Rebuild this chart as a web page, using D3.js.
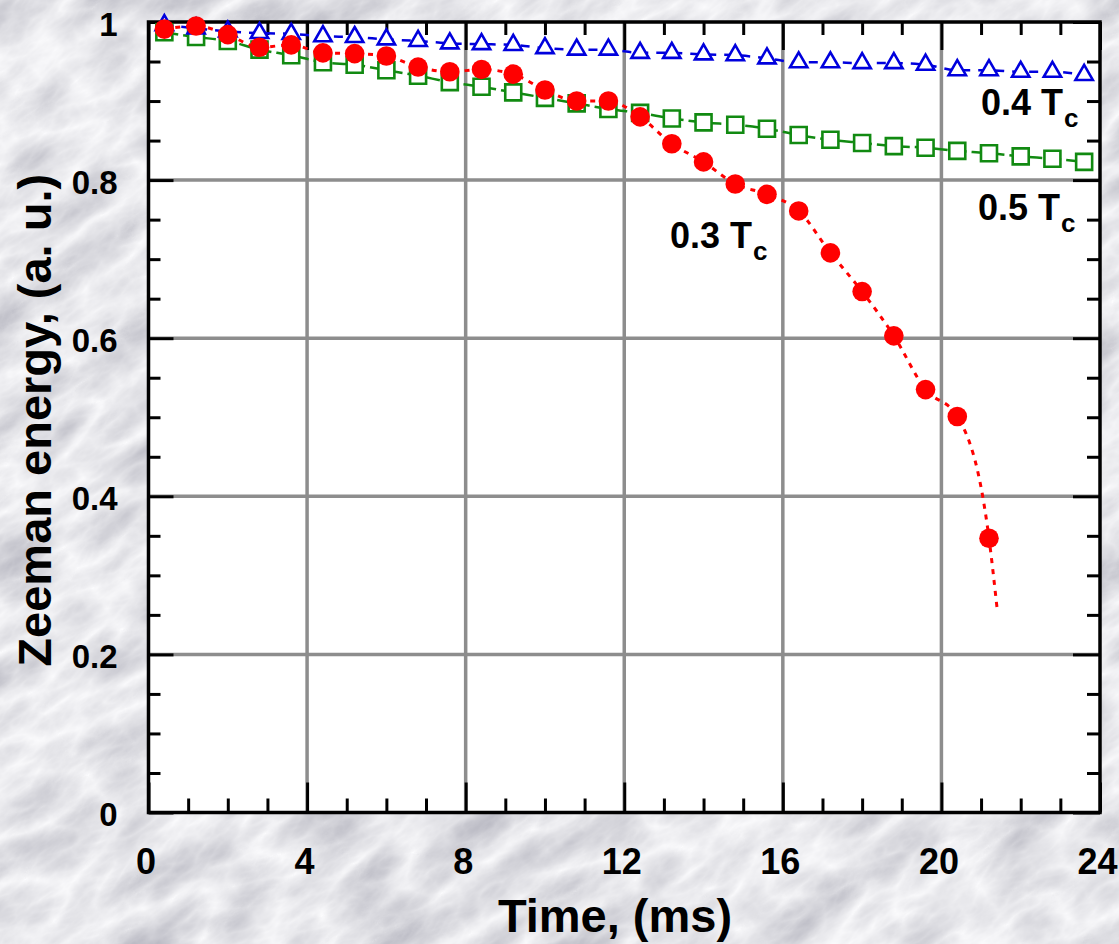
<!DOCTYPE html>
<html>
<head>
<meta charset="utf-8">
<script src="https://cdn.jsdelivr.net/npm/d3@7"></script>
<style>
  html, body { margin: 0; padding: 0; background: #dedee2; }
  svg { display: block; font-family: "Liberation Sans", Arial, Helvetica, sans-serif; }
</style>
</head>
<body>
<svg id="chart" width="1119" height="944"></svg>
<script>
// Sampling times (ms)
const timeMs = [0.4, 1.2, 2.0, 2.8, 3.6, 4.4, 5.2, 6.0, 6.8, 7.6, 8.4, 9.2, 10.0, 10.8, 11.6,
                12.4, 13.2, 14.0, 14.8, 15.6, 16.4, 17.2, 18.0, 18.8, 19.6, 20.4, 21.2, 22.0, 22.8, 23.6];

// Normalised Zeeman energy at 0.3 Tc (sample ends at 21.2 ms)
const energy03 = [0.991, 0.995, 0.984, 0.968, 0.971, 0.961, 0.960, 0.957, 0.943, 0.937, 0.940, 0.934,
                  0.914, 0.900, 0.900, 0.880, 0.846, 0.823, 0.795, 0.782, 0.761, 0.708, 0.659, 0.603,
                  0.535, 0.501, 0.347];
// End point of the 0.3 Tc guide curve [ms, energy]
const tail03 = [21.4, 0.26];

// Normalised Zeeman energy at 0.4 Tc
const energy04 = [0.996, 0.992, 0.988, 0.986, 0.985, 0.982, 0.981, 0.978, 0.976, 0.973, 0.972, 0.971,
                  0.967, 0.965, 0.965, 0.961, 0.961, 0.959, 0.958, 0.954, 0.949, 0.949, 0.948, 0.948,
                  0.946, 0.939, 0.939, 0.937, 0.937, 0.933];

// Normalised Zeeman energy at 0.5 Tc
const energy05 = [0.987, 0.981, 0.976, 0.965, 0.958, 0.949, 0.946, 0.939, 0.932, 0.924, 0.918, 0.911,
                  0.904, 0.897, 0.890, 0.885, 0.878, 0.873, 0.870, 0.865, 0.857, 0.851, 0.847, 0.843,
                  0.841, 0.837, 0.834, 0.830, 0.827, 0.823];

// Axis ticks and labels
const xTicks = [0, 4, 8, 12, 16, 20, 24];
const yTicks = [0, 0.2, 0.4, 0.6, 0.8, 1];
const xTitle = "Time, (ms)";
const yTitle = "Zeeman energy, (a. u.)";
const curveNames = ["0.3 T", "0.4 T", "0.5 T"];
const curveSub = "c";

const svg = d3.select("#chart");
const W = 1119, H = 944;

// Marble backdrop
const defs = svg.append("defs");
const marble = defs.append("filter").attr("id", "marble")
  .attr("x", 0).attr("y", 0).attr("width", 1).attr("height", 1);
marble.append("feTurbulence")
  .attr("type", "turbulence").attr("baseFrequency", "0.009 0.02")
  .attr("numOctaves", 5).attr("seed", 23).attr("result", "noise");
marble.append("feColorMatrix").attr("type", "matrix")
  .attr("values", "-0.55 0 0 0 0.97  -0.55 0 0 0 0.97  -0.5 0 0 0 0.985  0 0 0 0 1");
svg.append("g").attr("transform", `rotate(-35 ${W / 2} ${H / 2})`)
  .append("rect")
  .attr("x", -450).attr("y", -450).attr("width", W + 900).attr("height", H + 900)
  .attr("filter", "url(#marble)");

// Scales
const x = d3.scaleLinear().domain([0, 24]).range([148.5, 1100]);
const y = d3.scaleLinear().domain([0, 1]).range([812.5, 22]);

// Plot area
svg.append("rect")
  .attr("x", x(0)).attr("y", y(1))
  .attr("width", x(24) - x(0)).attr("height", y(0) - y(1))
  .attr("fill", "#ffffff");

// Grid
const grid = svg.append("g").attr("stroke", "#8d8d8d").attr("stroke-width", 3.5);
grid.selectAll("line.gx").data(xTicks.slice(1, -1)).join("line")
  .attr("x1", d => x(d)).attr("x2", d => x(d)).attr("y1", y(1)).attr("y2", y(0));
grid.selectAll("line.gy").data(yTicks.slice(1, -1)).join("line")
  .attr("y1", d => y(d)).attr("y2", d => y(d)).attr("x1", x(0)).attr("x2", x(24));

// Minor tick positions
const xMinor = d3.range(0, 24.001, 1).filter(v => v % 4 !== 0);
const yMinor = d3.range(0, 1.0001, 0.05).filter(v => Math.abs(v * 5 - Math.round(v * 5)) > 1e-6);

function styleAxis(g) {
  g.select(".domain").remove();
  g.selectAll(".tick line").attr("stroke", "#000").attr("stroke-width", 3);
  g.selectAll(".tick text")
    .attr("fill", "#000").attr("font-weight", "bold")
    .attr("font-family", "'Liberation Sans', Arial, sans-serif");
}

// Bottom axis
svg.append("g").attr("transform", `translate(0,${y(0)})`)
  .call(d3.axisBottom(x).tickValues(xTicks).tickSizeInner(-30).tickSizeOuter(0)
    .tickPadding(36).tickFormat(d3.format("d")))
  .call(styleAxis)
  .call(g => g.selectAll(".tick text").attr("font-size", 36).attr("dx", -3));
svg.append("g").attr("transform", `translate(0,${y(0)})`)
  .call(d3.axisBottom(x).tickValues(xMinor).tickSizeInner(-14).tickSizeOuter(0).tickFormat(""))
  .call(styleAxis);

// Top axis
svg.append("g").attr("transform", `translate(0,${y(1)})`)
  .call(d3.axisTop(x).tickValues(xTicks).tickSizeInner(-28).tickSizeOuter(0).tickFormat(""))
  .call(styleAxis);
svg.append("g").attr("transform", `translate(0,${y(1)})`)
  .call(d3.axisTop(x).tickValues(xMinor).tickSizeInner(-13).tickSizeOuter(0).tickFormat(""))
  .call(styleAxis);

// Left axis
svg.append("g").attr("transform", `translate(${x(0)},0)`)
  .call(d3.axisLeft(y).tickValues(yTicks).tickSizeInner(-25).tickSizeOuter(0)
    .tickPadding(31).tickFormat(d => d3.format("~g")(d)))
  .call(styleAxis)
  .call(g => g.selectAll(".tick text").attr("font-size", 33).attr("dy", "0.4em"));
svg.append("g").attr("transform", `translate(${x(0)},0)`)
  .call(d3.axisLeft(y).tickValues(yMinor).tickSizeInner(-12).tickSizeOuter(0).tickFormat(""))
  .call(styleAxis);

// Right axis
svg.append("g").attr("transform", `translate(${x(24)},0)`)
  .call(d3.axisRight(y).tickValues(yTicks).tickSizeInner(-27).tickSizeOuter(0).tickFormat(""))
  .call(styleAxis);
svg.append("g").attr("transform", `translate(${x(24)},0)`)
  .call(d3.axisRight(y).tickValues(yMinor).tickSizeInner(-13).tickSizeOuter(0).tickFormat(""))
  .call(styleAxis);

// Frame
svg.append("rect")
  .attr("x", x(0)).attr("y", y(1))
  .attr("width", x(24) - x(0)).attr("height", y(0) - y(1))
  .attr("fill", "none").attr("stroke", "#000").attr("stroke-width", 3.5);

// Axis titles
svg.append("text")
  .attr("x", 615).attr("y", 932)
  .attr("text-anchor", "middle")
  .attr("font-size", 47).attr("font-weight", "bold").attr("fill", "#000")
  .text(xTitle);
svg.append("text")
  .attr("transform", `translate(51,${(y(0) + y(1)) / 2 + 3}) rotate(-90)`)
  .attr("text-anchor", "middle")
  .attr("font-size", 47).attr("font-weight", "bold").attr("fill", "#000")
  .text(yTitle);

// Series
const line = d3.line().x(d => x(d[0])).y(d => y(d[1])).curve(d3.curveMonotoneX);
const pts05 = timeMs.map((t, i) => [t, energy05[i]]);
const pts04 = timeMs.map((t, i) => [t, energy04[i]]);
const pts03 = energy03.map((v, i) => [timeMs[i], v]);

// 0.5 Tc: open green squares, dashed guide
svg.append("path").datum(pts05)
  .attr("d", line).attr("fill", "none")
  .attr("stroke", "#118a11").attr("stroke-width", 2.5).attr("stroke-dasharray", "14,5");
svg.append("g").selectAll("path").data(pts05).join("path")
  .attr("transform", d => `translate(${x(d[0])},${y(d[1])})`)
  .attr("d", d3.symbol(d3.symbolSquare, 256))
  .attr("fill", "#ffffff").attr("stroke", "#118a11").attr("stroke-width", 2.6);

// 0.4 Tc: open blue triangles, dashed guide
svg.append("path").datum(pts04)
  .attr("d", line).attr("fill", "none")
  .attr("stroke", "#0000dd").attr("stroke-width", 2.5).attr("stroke-dasharray", "9,8");
svg.append("g").selectAll("path").data(pts04).join("path")
  .attr("transform", d => `translate(${x(d[0])},${y(d[1])})`)
  .attr("d", d3.symbol(d3.symbolTriangle, 130))
  .attr("fill", "#ffffff").attr("stroke", "#0000dd").attr("stroke-width", 2.6);

// 0.3 Tc: filled red circles, dotted guide
svg.append("path").datum(pts03.concat([tail03]))
  .attr("d", line).attr("fill", "none")
  .attr("stroke", "#ff0000").attr("stroke-width", 3).attr("stroke-dasharray", "5,6");
svg.append("g").selectAll("circle").data(pts03).join("circle")
  .attr("cx", d => x(d[0])).attr("cy", d => y(d[1])).attr("r", 9.8)
  .attr("fill", "#ff0000");

// Curve labels with subscript placed after the main text
const labelPos = [[670, 248], [981, 115], [978, 220]];
curveNames.forEach((name, i) => {
  const main = svg.append("text")
    .attr("x", labelPos[i][0]).attr("y", labelPos[i][1])
    .attr("font-size", 36).attr("font-weight", "bold").attr("fill", "#000")
    .text(name);
  const len = main.node().getComputedTextLength();
  svg.append("text")
    .attr("x", labelPos[i][0] + len + 1).attr("y", labelPos[i][1] + 12)
    .attr("font-size", 26).attr("font-weight", "bold").attr("fill", "#000")
    .text(curveSub);
});
</script>
</body>
</html>
